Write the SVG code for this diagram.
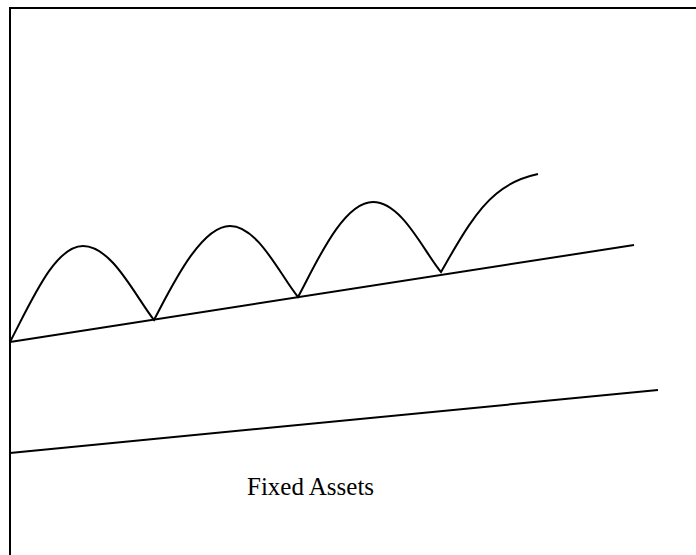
<svg xmlns="http://www.w3.org/2000/svg" width="696" height="555" viewBox="0 0 696 555">
<style>
.ln{stroke:#000;stroke-width:2;fill:none;stroke-linecap:butt}
.lbl{font-family:"Liberation Serif","Times New Roman",serif;font-size:25px;fill:#000}
</style>
<rect width="696" height="555" fill="#fff"/>
<g id="frame">
<line class="ln" x1="9" y1="8" x2="696" y2="8"/>
<line class="ln" x1="10" y1="7" x2="10" y2="555"/>
</g>
<g id="connectors">
<line id="trend-upper" class="ln" x1="10" y1="342" x2="634" y2="245"/>
<line id="trend-lower" class="ln" x1="10" y1="453" x2="658" y2="390"/>
<path id="wave" class="ln" d="M10,342 C32,300 55,246 83,246 C112,246 135,296 154,320 C170,290 200,226 230,226 C258,226 280,275 298,297 C314,268 342,202 373,202 C402,202 424,252 441,272 C456,246 474,212 496,194 C510,182 524,177 538,174"/>
</g>
<g id="label-fixed-assets">
<text class="lbl" x="247" y="495">Fixed Assets</text>
</g>
</svg>
